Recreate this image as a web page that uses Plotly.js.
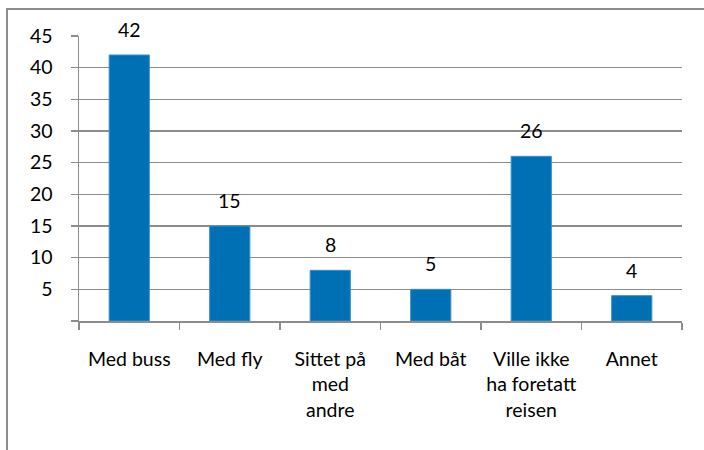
<!DOCTYPE html>
<html><head><meta charset="utf-8">
<script src="https://cdn.plot.ly/plotly-3.0.1.min.js"></script>
<style>html,body{margin:0;padding:0;background:#fff}#chart{width:704px;height:450px}</style>
</head><body><div id="chart"></div>
<script>
const categories = ["Med buss", "Med fly", "Sittet på<br>med<br>andre", "Med båt", "Ville ikke<br>ha foretatt<br>reisen", "Annet"];
const values = [42, 15, 8, 5, 26, 4];
const yTickVals = [0, 5, 10, 15, 20, 25, 30, 35, 40, 45];
const yTickText = ["", "5", "10", "15", "20", "25", "30", "35", "40", "45"];

const font = {family: "Lato, 'Open Sans', sans-serif", size: 19.5, color: "#000"};
const gray = "#8c8c8c";

const annotations = categories.map((c, i) => ({
  x: c, y: values[i], xref: "x", yref: "y", text: String(values[i]),
  showarrow: false, yanchor: "bottom", yshift: 12, font: font
}));

const W = 603, H = 285;
Plotly.newPlot("chart", [{
  type: "bar", x: categories, y: values,
  marker: {color: "#0070b5", line: {color: "#3a8fd0", width: 1}},
  width: 0.4, hoverinfo: "none"
}], {
  width: 704, height: 450,
  margin: {l: 79, r: 22, t: 36, b: 129},
  paper_bgcolor: "#fff", plot_bgcolor: "#fff",
  font: font, showlegend: false,
  xaxis: {
    type: "category", showgrid: false, zeroline: false,
    showline: true, linecolor: gray, linewidth: 1.5,
    ticks: "outside", tickson: "boundaries", ticklen: 7, tickcolor: gray, tickwidth: 1.5,
    tickfont: font, ticklabelstandoff: 20
  },
  yaxis: {
    range: [0, 45], tickvals: yTickVals, ticktext: yTickText,
    showgrid: true, gridcolor: gray, gridwidth: 1.5, zeroline: false,
    showline: true, linecolor: gray, linewidth: 1.5,
    ticks: "outside", ticklen: 7, tickcolor: gray, tickwidth: 1.5,
    tickfont: font, ticklabelstandoff: 14
  },
  annotations: annotations,
  shapes: [{
    type: "rect", xref: "paper", yref: "paper",
    x0: (7 - 79) / W, x1: (712 - 79) / W,
    y0: (321 - 460) / H, y1: (321 - 9) / H,
    line: {color: gray, width: 2}, layer: "below"
  }]
}, {displayModeBar: false, staticPlot: true});
</script></body></html>
